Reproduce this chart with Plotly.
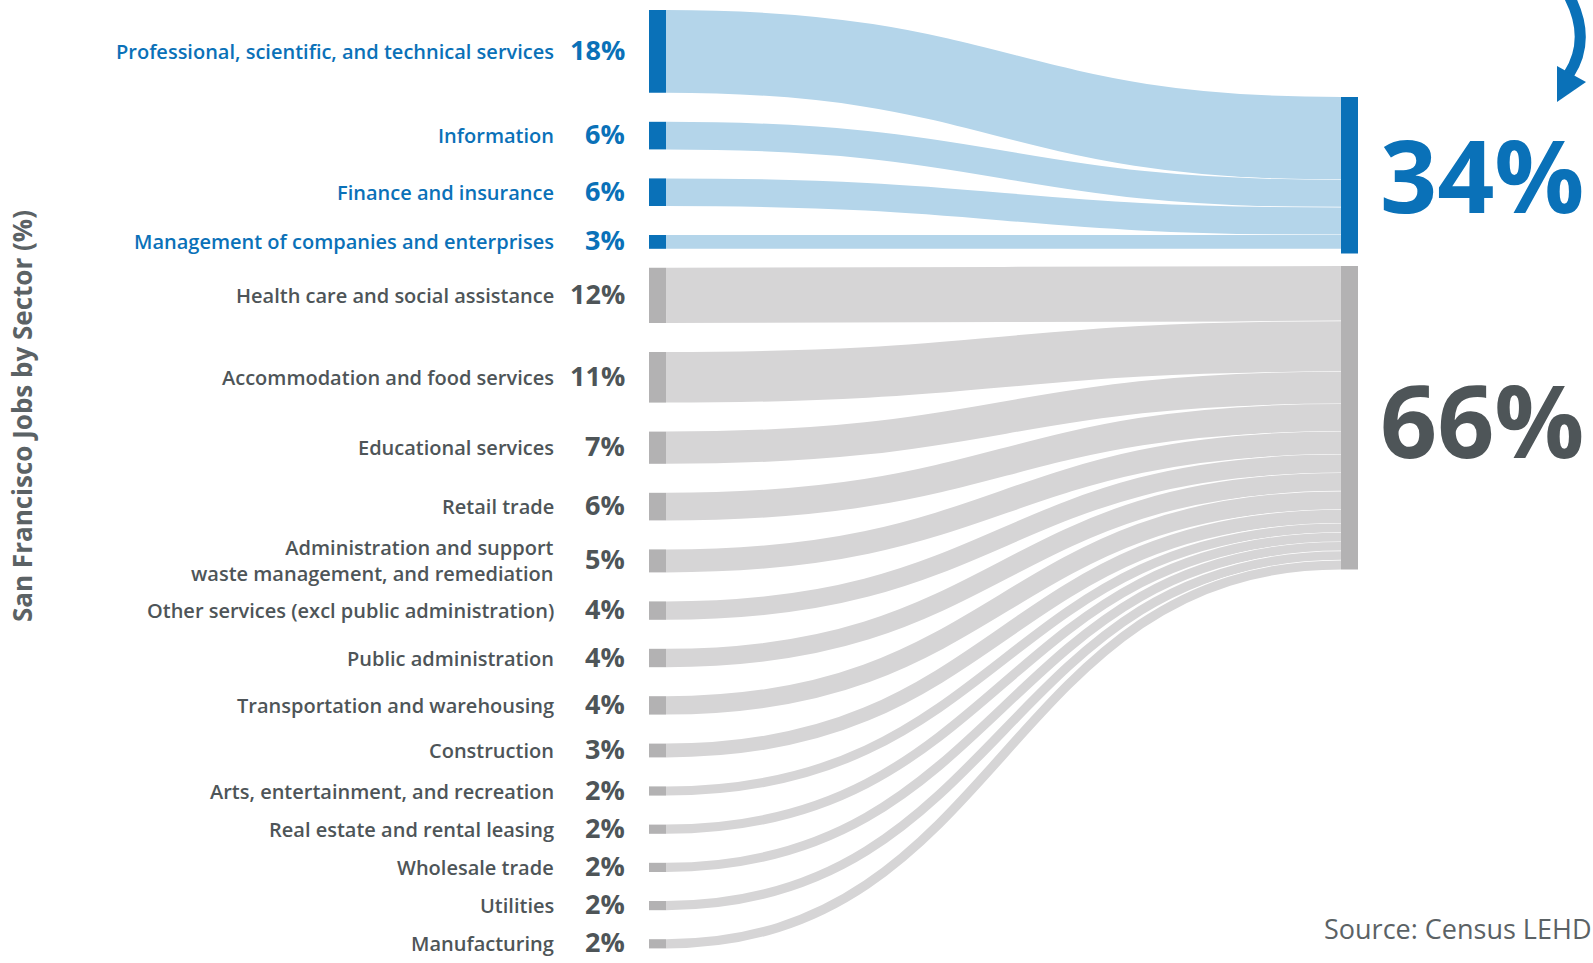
import plotly.graph_objects as go

# Sector shares of San Francisco jobs (%)
sectors = [
    "Professional, scientific, and technical services",
    "Information",
    "Finance and insurance",
    "Management of companies and enterprises",
    "Health care and social assistance",
    "Accommodation and food services",
    "Educational services",
    "Retail trade",
    "Administration and support<br>waste management, and remediation",
    "Other services (excl public administration)",
    "Public administration",
    "Transportation and warehousing",
    "Construction",
    "Arts, entertainment, and recreation",
    "Real estate and rental leasing",
    "Wholesale trade",
    "Utilities",
    "Manufacturing",
]
shares = [18, 6, 6, 3, 12, 11, 7, 6, 5, 4, 4, 4, 3, 2, 2, 2, 2, 2]
# group of each sector: 0 = highlighted group, 1 = everything else
groups = [0, 0, 0, 0, 1, 1, 1, 1, 1, 1, 1, 1, 1, 1, 1, 1, 1, 1]
group_totals = [34, 66]

# layout (pixel units: the plot area covers the whole page)
W, H = 1593, 963
K = 4.6            # px per percentage point
LEFT_X0, LEFT_X1 = 649, 666
RIGHT_X0, RIGHT_X1 = 1341, 1358
TOP = 10
GAP = 29
GROUP_GAP = 19
RIGHT_TOPS = [97, 266]

BLUE = "#0a71b8"
BLUE_LINK = "#b4d5ea"
GREY_NODE = "#b3b2b3"
GREY_LINK = "#d6d5d6"
GREY_TEXT = "#4e5558"

shapes = []
annotations = []

# left node positions
left = []
y = TOP
for i, v in enumerate(shares):
    if i > 0:
        y += GROUP_GAP if groups[i] != groups[i - 1] else GAP
    left.append((y, y + v * K))
    y += v * K

# right node positions
right = [(RIGHT_TOPS[g], RIGHT_TOPS[g] + t * K) for g, t in enumerate(group_totals)]

# links: stroked cubic curves, stacked into the group node on the right
offsets = [r[0] for r in right]
xm = (LEFT_X1 + RIGHT_X0) / 2
for i, v in enumerate(shares):
    g = groups[i]
    w = v * K
    y0 = left[i][0] + w / 2
    y1 = offsets[g] + w / 2
    offsets[g] += w
    path = f"M {LEFT_X1},{y0} C {xm},{y0} {xm},{y1} {RIGHT_X0},{y1}"
    shapes.append(dict(type="path", path=path, xref="x", yref="y",
                       line=dict(color="white", width=w + 1.2)))
    shapes.append(dict(type="path", path=path, xref="x", yref="y",
                       line=dict(color=BLUE_LINK if g == 0 else GREY_LINK, width=w)))

# nodes
for i, (a, b) in enumerate(left):
    shapes.append(dict(type="rect", xref="x", yref="y", x0=LEFT_X0, x1=LEFT_X1, y0=a, y1=b,
                       line=dict(width=0), fillcolor=BLUE if groups[i] == 0 else GREY_NODE))
for g, (a, b) in enumerate(right):
    shapes.append(dict(type="rect", xref="x", yref="y", x0=RIGHT_X0, x1=RIGHT_X1, y0=a, y1=b,
                       line=dict(width=0), fillcolor=BLUE if g == 0 else GREY_NODE))

# sector labels and shares
for i, (a, b) in enumerate(left):
    col = BLUE if groups[i] == 0 else GREY_TEXT
    yc = (a + b) / 2
    annotations.append(dict(x=556, y=yc, xref="x", yref="y", text=sectors[i],
                            xanchor="right", yanchor="middle", align="right", showarrow=False,
                            font=dict(family="Open Sans", size=20, color=col, weight=600)))
    annotations.append(dict(x=627, y=yc - 2, xref="x", yref="y", text=f"{shares[i]}%",
                            xanchor="right", yanchor="middle", showarrow=False,
                            font=dict(family="Open Sans", size=27, color=col, weight=700)))

# group totals
for g, (a, b) in enumerate(right):
    annotations.append(dict(x=1482, y=[174, 419][g], xref="x", yref="y",
                            text=f"{group_totals[g]}%", xanchor="center", yanchor="middle",
                            showarrow=False,
                            font=dict(family="Open Sans", size=100, weight=700,
                                      color=BLUE if g == 0 else GREY_TEXT)))

# curved arrow pointing at the highlighted total
shapes.append(dict(type="path", xref="x", yref="y",
                   path="M 1568,-6 Q 1592,38 1569,74",
                   line=dict(color=BLUE, width=11)))
shapes.append(dict(type="path", xref="x", yref="y",
                   path="M 1557,66 L 1586,82 L 1557,102 Z",
                   fillcolor=BLUE, line=dict(width=0)))

annotations.append(dict(x=22, y=416, xref="x", yref="y", text="San Francisco Jobs by Sector (%)",
                        textangle=-90, showarrow=False, xanchor="center", yanchor="middle",
                        font=dict(family="Open Sans", size=26, weight=700, color="#5b6265")))
annotations.append(dict(x=1593, y=928, xref="x", yref="y", text="Source: Census LEHD",
                        showarrow=False, xanchor="right", yanchor="middle",
                        font=dict(family="Open Sans", size=27, color="#5b6265")))

fig = go.Figure()
fig.add_trace(go.Scatter(x=[0, W], y=[0, H], mode="markers", marker=dict(opacity=0),
                         hoverinfo="skip", showlegend=False))
fig.update_layout(
    width=W, height=H,
    margin=dict(l=0, r=0, t=0, b=0),
    paper_bgcolor="white", plot_bgcolor="white",
    xaxis=dict(range=[0, W], visible=False, fixedrange=True),
    yaxis=dict(range=[H, 0], visible=False, fixedrange=True),
    shapes=shapes, annotations=annotations, showlegend=False,
)
fig.write_html("out.html")
